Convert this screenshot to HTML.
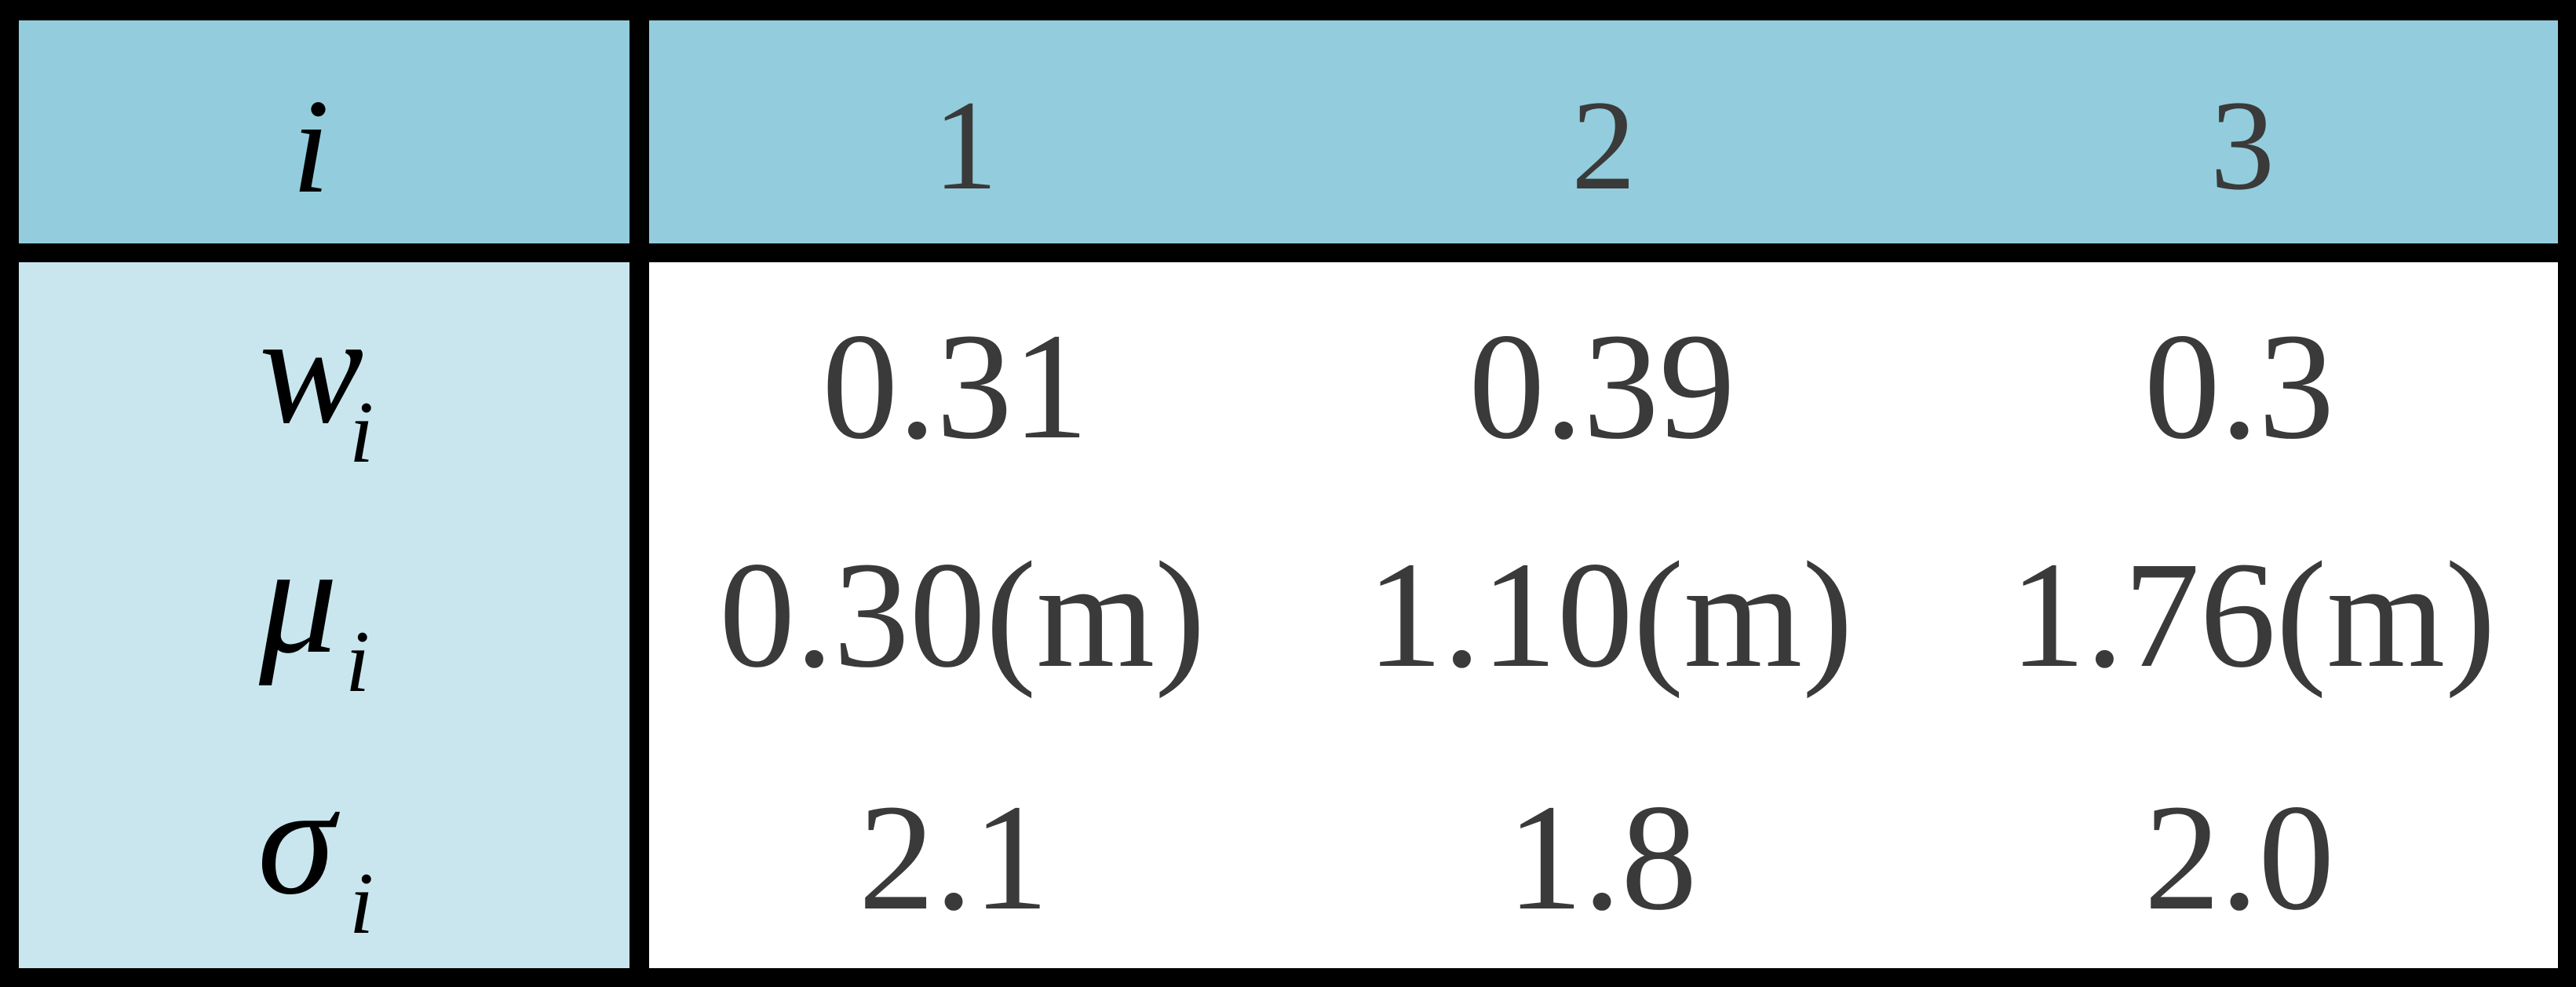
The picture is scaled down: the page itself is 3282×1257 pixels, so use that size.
<!DOCTYPE html>
<html><head><meta charset="utf-8"><style>
html,body{margin:0;padding:0;background:#000;}
svg{display:block;}
text{font-family:"Liberation Serif","Times New Roman",Times,serif;}
.v{fill:#3a3a3a;font-size:194px;text-anchor:middle;}
.h{fill:#3a3a3a;font-size:164px;text-anchor:middle;}
.l{fill:#000;font-style:italic;font-size:200px;}
.s{fill:#000;font-style:italic;font-size:112px;}
</style></head><body>
<svg width="3282" height="1257" viewBox="0 0 3282 1257">
<rect x="0" y="0" width="3282" height="1257" fill="#000"/>
<rect x="24" y="26" width="778" height="284" fill="#93cddd"/>
<rect x="827" y="26" width="2432" height="284" fill="#93cddd"/>
<rect x="24" y="334" width="778" height="899" fill="#c9e6ee"/>
<rect x="827" y="334" width="2432" height="899" fill="#fff"/>

<text class="l" x="372" y="244" style="font-size:172px">i</text>
<text class="h" x="1230" y="240">1</text>
<text class="h" x="2043" y="240">2</text>
<text class="h" x="2857" y="240">3</text>

<text class="l" x="330" y="537">w</text>
<text class="s" x="445" y="588">i</text>
<text class="l" x="330" y="830">μ</text>
<text class="s" x="440" y="880">i</text>
<text class="l" x="328" y="1137">σ</text>
<text class="s" x="445" y="1188">i</text>

<text class="v" x="1217" y="557">0.31</text>
<text class="v" x="2041" y="557">0.39</text>
<text class="v" x="2853" y="557">0.3</text>
<text class="v" x="1226" y="848">0.30(m)</text>
<text class="v" x="2051" y="848">1.10(m)</text>
<text class="v" x="2870" y="848">1.76(m)</text>
<text class="v" x="1215" y="1157">2.1</text>
<text class="v" x="2041" y="1157">1.8</text>
<text class="v" x="2853" y="1157">2.0</text>
</svg>
</body></html>
